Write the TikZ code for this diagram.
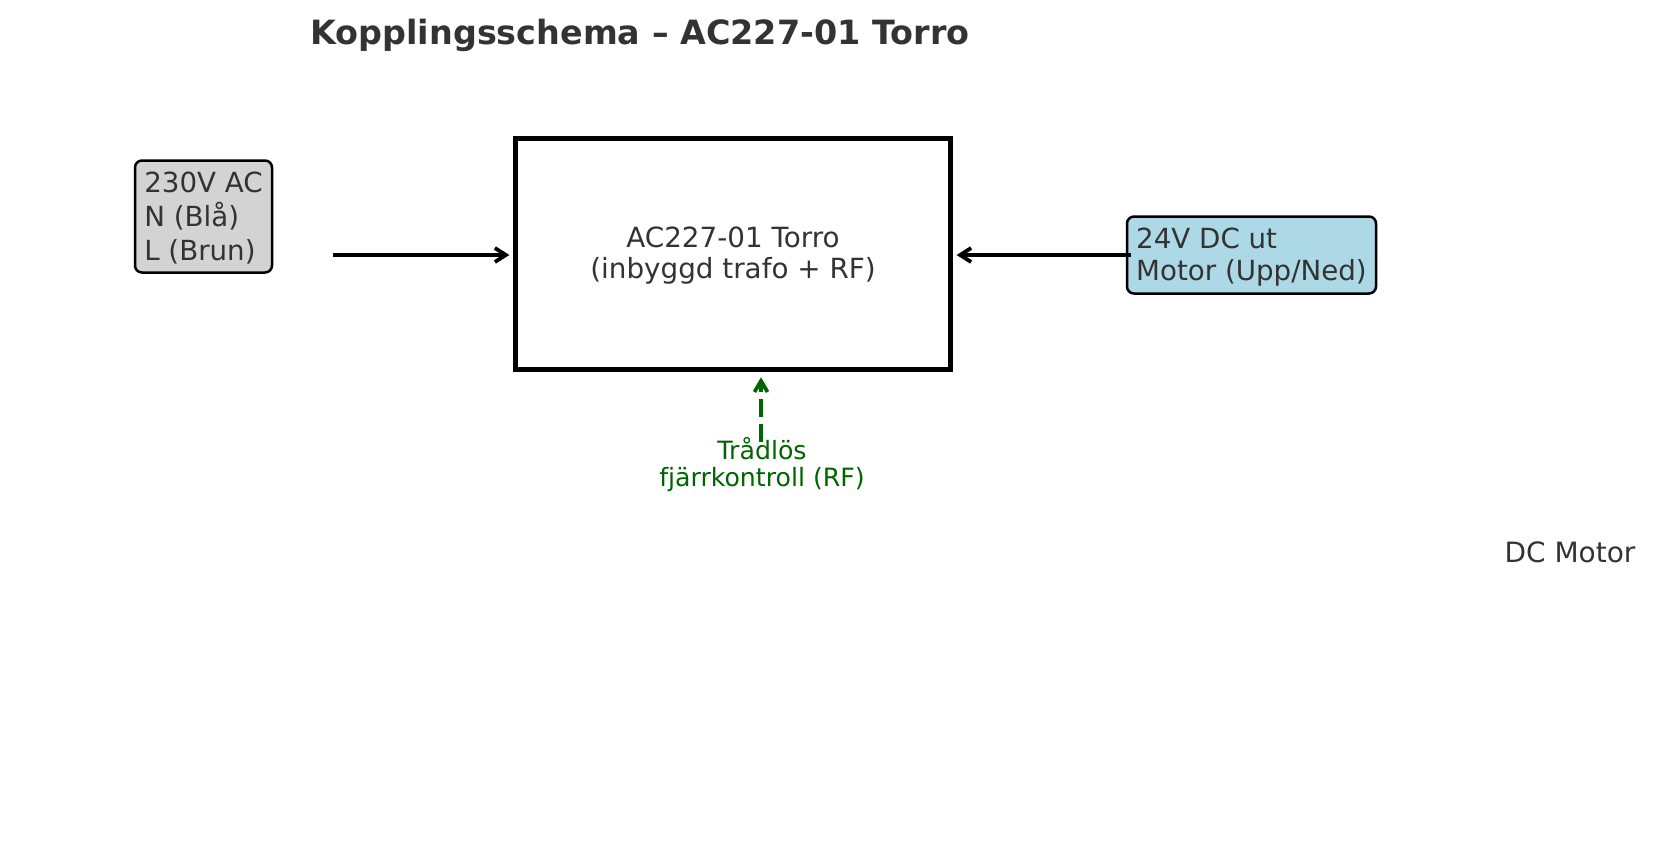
\documentclass[tikz,border=0pt]{standalone}
\usepackage{fontspec}
\setmainfont{DejaVu Sans}
\usetikzlibrary{arrows.meta}
\definecolor{txt}{HTML}{333333}
\definecolor{rfgreen}{HTML}{006400}
\definecolor{lgray}{HTML}{D3D3D3}
\definecolor{lblue}{HTML}{ADD8E6}
\newcommand{\lowerln}[1]{\raisebox{-0.9pt}[\height][\depth]{#1}}
\tikzset{
  px/.style={x=0.5pt,y=-0.5pt},
  fbox/.style={draw=black,line width=1.25pt,rounded corners=3.5pt,align=left,text=txt,
    font=\fontsize{13.85pt}{17pt}\selectfont,inner sep=0pt},
  mainbox/.style={draw=black,line width=2.5pt,align=center,text=txt,
    font=\fontsize{13.9pt}{15.4pt}\selectfont,minimum width=217.5pt,minimum height=115.75pt,inner sep=0pt},
  conn/.style={line width=1.9pt,-{Straight Barb[length=5.5pt,width=7pt,line width=1.9pt]}},
  rfconn/.style={rfgreen,line width=1.9pt,dash pattern=on 9pt off 3.5pt,-{Straight Barb[length=5.5pt,width=6.5pt,line width=1.9pt]}},
  titlestyle/.style={text=txt,font=\fontsize{16.7pt}{20pt}\selectfont\bfseries,inner sep=0pt},
  plain/.style={text=txt,font=\fontsize{14pt}{16pt}\selectfont,inner sep=0pt},
  rftext/.style={text=rfgreen,align=center,font=\fontsize{12.6pt}{13.2pt}\selectfont,inner sep=0pt}
}
\begin{document}
\begin{tikzpicture}[px]
\useasboundingbox (0,0) rectangle (1654,852);
\node[titlestyle,anchor=base] (title) at (640,44) {Kopplingsschema – AC227-01 Torro};
\node[fbox,fill=lgray,minimum width=68.5pt,minimum height=56pt] (ac) at (203.5,216.5) {\lowerln{230V AC}\\\lowerln{N (Blå)}\\\lowerln{L (Brun)}};
\node[mainbox] (main) at (733,254) {\lowerln{AC227-01 Torro}\\\lowerln{(inbyggd trafo + RF)}};
\node[fbox,fill=lblue,minimum width=124.5pt,minimum height=38.5pt,font=\fontsize{13.85pt}{15.8pt}\selectfont] (dc) at (1251.5,255) {\lowerln{24V DC ut}\\\lowerln{Motor (Upp/Ned)}};
\node[rftext] (rf) at (762,464.5) {Trådlös\\fjärrkontroll (RF)};
\node[plain,anchor=base] (motor) at (1570,562) {DC Motor};
\coordinate (acout) at (333,255);
\coordinate (rfstart) at (761,442);
\draw[conn,shorten >=1.8pt] (acout) -- (acout -| main.west);
\draw[conn,shorten >=1.8pt] ([xshift=2.6pt]dc.west) -- (dc.west -| main.east);
\draw[rfconn,shorten >=2.5pt] (rfstart) -- (rfstart |- main.south);
\end{tikzpicture}
\end{document}
